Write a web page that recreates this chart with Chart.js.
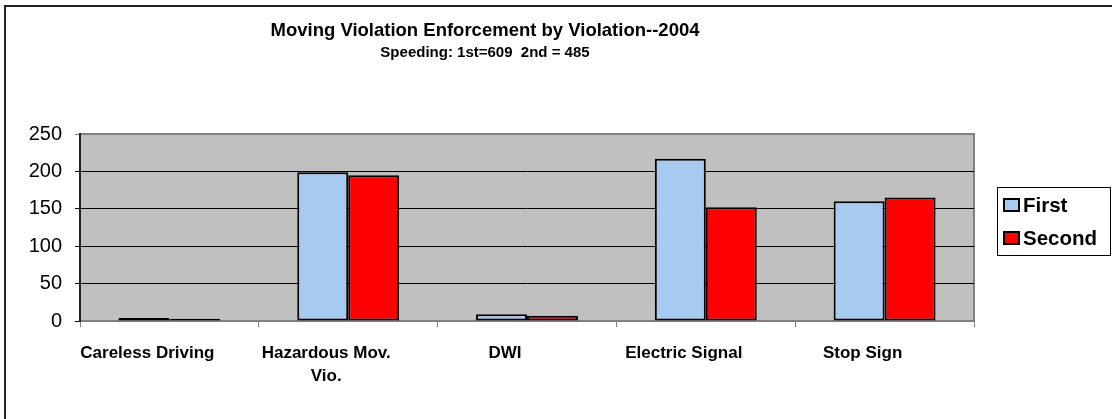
<!DOCTYPE html>
<html>
<head>
<meta charset="utf-8">
<script src="https://cdn.jsdelivr.net/npm/chart.js@4/dist/chart.umd.min.js"></script>
<style>
  html, body { margin: 0; padding: 0; background: #fff; overflow: hidden; }
  #wrap { position: relative; width: 1112px; height: 419px; }
  #frame {
    position: absolute; left: 4px; top: 5px; right: -10px; bottom: -10px;
    border: 2px solid #222;
  }
  canvas { position: absolute; left: 0; top: 0; }
</style>
</head>
<body>
<div id="wrap">
  <canvas id="chart" width="1112" height="419"></canvas>
  <div id="frame"></div>
</div>
<script>
const titleText = "Moving Violation Enforcement by Violation--2004";
const subtitleText = "Speeding: 1st=609  2nd = 485";

const categories = [
  "Careless Driving",
  ["Hazardous Mov.", "Vio."],
  "DWI",
  "Electric Signal",
  "Stop Sign",
];
const seriesNames = ["First", "Second"];
const firstValues = [4, 199, 9, 217, 160];
const secondValues = [3, 195, 7, 152, 165];
const yTicks = [0, 50, 100, 150, 200, 250];

const FONT = "Arial, 'Liberation Sans', sans-serif";

// gray plot area with gray top/right edges, like the old Excel charts
const plotBackground = {
  id: "plotBackground",
  beforeDraw(chart) {
    const { ctx, chartArea } = chart;
    ctx.save();
    ctx.fillStyle = "#c0c0c0";
    ctx.fillRect(chartArea.left, chartArea.top,
      chartArea.right - chartArea.left, chartArea.bottom - chartArea.top);
    ctx.strokeStyle = "#808080";
    ctx.lineWidth = 2;
    ctx.beginPath();
    ctx.moveTo(chartArea.left, chartArea.top);
    ctx.lineTo(chartArea.right, chartArea.top);
    ctx.lineTo(chartArea.right, chartArea.bottom);
    ctx.stroke();
    ctx.restore();
  },
};

const titles = {
  id: "titles",
  afterDraw(chart) {
    const ctx = chart.ctx;
    ctx.save();
    ctx.fillStyle = "#000";
    ctx.textAlign = "center";
    ctx.textBaseline = "middle";
    ctx.font = "bold 18.5px " + FONT;
    ctx.fillText(titleText, 485, 31);
    ctx.font = "bold 15px " + FONT;
    ctx.fillText(subtitleText, 485, 53);
    ctx.restore();
  },
};

const boxLegend = {
  id: "boxLegend",
  afterDraw(chart) {
    const ctx = chart.ctx;
    const left = 997, top = 187, width = 113, height = 68;
    ctx.save();
    ctx.fillStyle = "#fff";
    ctx.fillRect(left, top, width, height);
    ctx.strokeStyle = "#000";
    ctx.lineWidth = 1;
    ctx.strokeRect(left + 0.5, top + 0.5, width, height);
    ctx.font = "bold 20.5px " + FONT;
    ctx.textBaseline = "middle";
    chart.data.datasets.forEach((ds, i) => {
      const cy = 205 + i * 33;
      ctx.fillStyle = ds.backgroundColor;
      ctx.fillRect(1004, cy - 6, 15, 12);
      ctx.lineWidth = 2;
      ctx.strokeRect(1004, cy - 6, 15, 12);
      ctx.fillStyle = "#000";
      ctx.fillText(ds.label, 1023, cy + 1);
    });
    ctx.restore();
  },
};

const ctx = document.getElementById("chart").getContext("2d");

new Chart(ctx, {
  type: "bar",
  data: {
    labels: categories,
    datasets: [
      {
        label: seriesNames[0],
        data: firstValues,
        backgroundColor: "#a6caf0",
        borderColor: "#000",
        borderWidth: 2,
        borderSkipped: false,
      },
      {
        label: seriesNames[1],
        data: secondValues,
        backgroundColor: "#ff0000",
        borderColor: "#000",
        borderWidth: 2,
        borderSkipped: false,
      },
    ],
  },
  options: {
    responsive: false,
    animation: false,
    devicePixelRatio: 1,
    layout: { padding: { top: 134, right: 138, left: 0, bottom: 0 } },
    datasets: {
      bar: { categoryPercentage: 0.57, barPercentage: 1 },
    },
    plugins: {
      legend: { display: false },
      title: { display: false },
      tooltip: { enabled: false },
    },
    scales: {
      x: {
        afterFit: (scale) => { scale.height = 98; },
        grid: {
          display: true,
          drawOnChartArea: false,
          drawTicks: true,
          tickLength: 6,
          color: "#808080",
          offset: true,
        },
        border: { display: true, color: "#808080", width: 2 },
        ticks: {
          color: "#000",
          font: { family: FONT, size: 17, weight: "bold", lineHeight: 1.4 },
          padding: 14,
          labelOffset: -22,
          maxRotation: 0,
          autoSkip: false,
        },
      },
      y: {
        min: yTicks[0],
        max: yTicks[yTicks.length - 1],
        afterFit: (scale) => { scale.width = 80; },
        afterBuildTicks: (scale) => {
          scale.ticks = yTicks.map((v) => ({ value: v }));
        },
        grid: {
          color: (c) => (c.tick && c.tick.value === 250 ? "#808080" : "#000"),
          lineWidth: 1,
          tickLength: 5,
          drawTicks: true,
        },
        border: { display: true, color: "#222", width: 2 },
        ticks: {
          color: "#000",
          font: { family: FONT, size: 20 },
          padding: 13,
        },
      },
    },
  },
  plugins: [plotBackground, titles, boxLegend],
});
</script>
</body>
</html>
